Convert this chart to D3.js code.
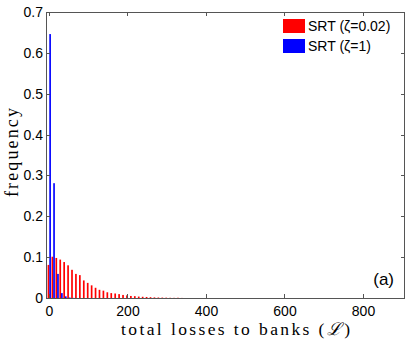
<!DOCTYPE html>
<html>
<head>
<meta charset="utf-8">
<script src="https://cdn.jsdelivr.net/npm/d3@7"></script>
<style>
  body { margin: 0; background: #fff; }
  svg { display: block; }
</style>
</head>
<body>
<div id="chart"></div>
<script>
// histogram bins (total losses), step 10
var lossBins = [0, 10, 20, 30, 40, 50, 60, 70, 80, 90, 100, 110, 120, 130, 140, 150, 160, 170,
                180, 190, 200, 210, 220, 230, 240, 250, 260, 270, 280, 290, 300, 310, 320, 330, 340];
var freqSmallZeta = [0.081, 0.101, 0.098, 0.094, 0.088, 0.080, 0.069, 0.059, 0.056, 0.043, 0.037, 0.031,
                     0.025, 0.020, 0.018, 0.014, 0.012, 0.011, 0.0095, 0.0075, 0.0065, 0.005, 0.0045, 0.0035,
                     0.003, 0.0025, 0.002, 0.0015, 0.0012, 0.001, 0.0008, 0.0005, 0.0004, 0.0006, 0.0002];
var freqUnitZeta = [0.646, 0.281, 0.059, 0.012, 0.004, 0.0012, 0.0003, 0, 0, 0, 0, 0,
                    0, 0, 0, 0, 0, 0, 0, 0, 0, 0, 0, 0, 0, 0, 0, 0, 0, 0, 0, 0, 0, 0, 0];
var seriesNames = ["SRT (\u03b6=0.02)", "SRT (\u03b6=1)"];
var seriesColors = ["#ff0000", "#0000ff"];
var xTicks = [0, 200, 400, 600, 800];
var yTicks = [0, 0.1, 0.2, 0.3, 0.4, 0.5, 0.6, 0.7];

var width = 411, height = 339;
var margin = { left: 46, right: 6, top: 12, bottom: 41 };

var svg = d3.select('#chart').append('svg')
    .attr('width', width)
    .attr('height', height);

var x = d3.scaleLinear().domain([-7.6, 907]).range([margin.left, width - margin.right]);
var y = d3.scaleLinear().domain([0, 0.7]).range([height - margin.bottom, margin.top]);

var plot = svg.append('g');

// red bars (left of each bin), blue bars (right)
plot.selectAll('rect.red')
    .data(lossBins.map(function(b, i) { return { b: b, v: freqSmallZeta[i] }; }))
    .enter().append('rect')
    .attr('class', 'red')
    .attr('x', function(d) { return x(d.b - 3.5); })
    .attr('width', function(d) { return x(d.b + 0.8) - x(d.b - 3.5); })
    .attr('y', function(d) { return y(d.v); })
    .attr('height', function(d) { return y(0) - y(d.v); })
    .attr('fill', seriesColors[0]);

plot.selectAll('rect.blue')
    .data(lossBins.map(function(b, i) { return { b: b, v: freqUnitZeta[i] }; }).filter(function(d) { return d.v > 0; }))
    .enter().append('rect')
    .attr('class', 'blue')
    .attr('x', function(d) { return x(d.b + 0.8); })
    .attr('width', function(d) { return x(d.b + 5) - x(d.b + 0.8); })
    .attr('y', function(d) { return y(d.v); })
    .attr('height', function(d) { return y(0) - y(d.v); })
    .attr('fill', seriesColors[1]);

var axisColor = '#555';
var tickFont = '"Liberation Sans", Arial, sans-serif';

// bottom / left axes with labels
var xAxis = svg.append('g')
    .attr('transform', 'translate(0,' + y(0) + ')')
    .call(d3.axisBottom(x).tickValues(xTicks).tickSize(0).tickPadding(5).tickFormat(d3.format('d')));
var yAxis = svg.append('g')
    .attr('transform', 'translate(' + x.range()[0] + ',0)')
    .call(d3.axisLeft(y).tickValues(yTicks).tickSize(0).tickPadding(3)
        .tickFormat(function(d) { return d === 0 ? '0' : d3.format('.1f')(d); }));
[xAxis, yAxis].forEach(function(a) {
  a.select('.domain').remove();
  a.selectAll('text').attr('fill', '#000').style('font-family', tickFont).style('font-size', '14px');
});
xAxis.selectAll('text').attr('dy', '0.92em');

// box
var x0 = x.range()[0], x1 = x.range()[1], y0 = y.range()[0], y1 = y.range()[1];
svg.append('rect')
    .attr('x', x0 + 0.5).attr('y', y1 + 0.5)
    .attr('width', x1 - x0 - 1).attr('height', y0 - y1)
    .attr('fill', 'none').attr('stroke', axisColor).attr('stroke-width', 1);

// inner ticks on all four sides
var tl = 4;
var tg = svg.append('g').attr('stroke', axisColor).attr('stroke-width', 1);
xTicks.forEach(function(t) {
  var px = Math.round(x(t)) + 0.5;
  tg.append('line').attr('x1', px).attr('x2', px).attr('y1', y0).attr('y2', y0 - tl);
  tg.append('line').attr('x1', px).attr('x2', px).attr('y1', y1).attr('y2', y1 + tl);
});
yTicks.forEach(function(t) {
  var py = Math.round(y(t)) + 0.5;
  tg.append('line').attr('x1', x0).attr('x2', x0 + tl).attr('y1', py).attr('y2', py);
  tg.append('line').attr('x1', x1).attr('x2', x1 - tl).attr('y1', py).attr('y2', py);
});

// axis titles
var serif = '"Liberation Serif", "DejaVu Serif", serif';
var xt = svg.append('text')
    .attr('x', 121).attr('y', 334.5)
    .attr('textLength', 229).attr('lengthAdjust', 'spacing')
    .style('font-family', serif).style('font-size', '17.5px');
xt.append('tspan').text('total losses to banks (');
xt.append('tspan').style('font-style', 'italic').text('\u2112');
xt.append('tspan').text(')');

svg.append('text')
    .attr('transform', 'translate(18,197) rotate(-90)')
    .attr('textLength', 89).attr('lengthAdjust', 'spacing')
    .style('font-family', serif).style('font-size', '18px')
    .text('frequency');

// legend
var legend = svg.append('g');
seriesNames.forEach(function(name, i) {
  var ly = 19 + i * 20;
  legend.append('rect').attr('x', 283).attr('y', ly).attr('width', 22).attr('height', 14)
      .attr('fill', seriesColors[i]);
  legend.append('text').attr('x', 308).attr('y', ly + 12)
      .style('font-family', tickFont).style('font-size', '14px')
      .text(name);
});

// panel label
svg.append('text')
    .attr('x', 394).attr('y', 285)
    .attr('text-anchor', 'end')
    .style('font-family', tickFont).style('font-size', '17px')
    .text('(a)');
</script>
</body>
</html>
